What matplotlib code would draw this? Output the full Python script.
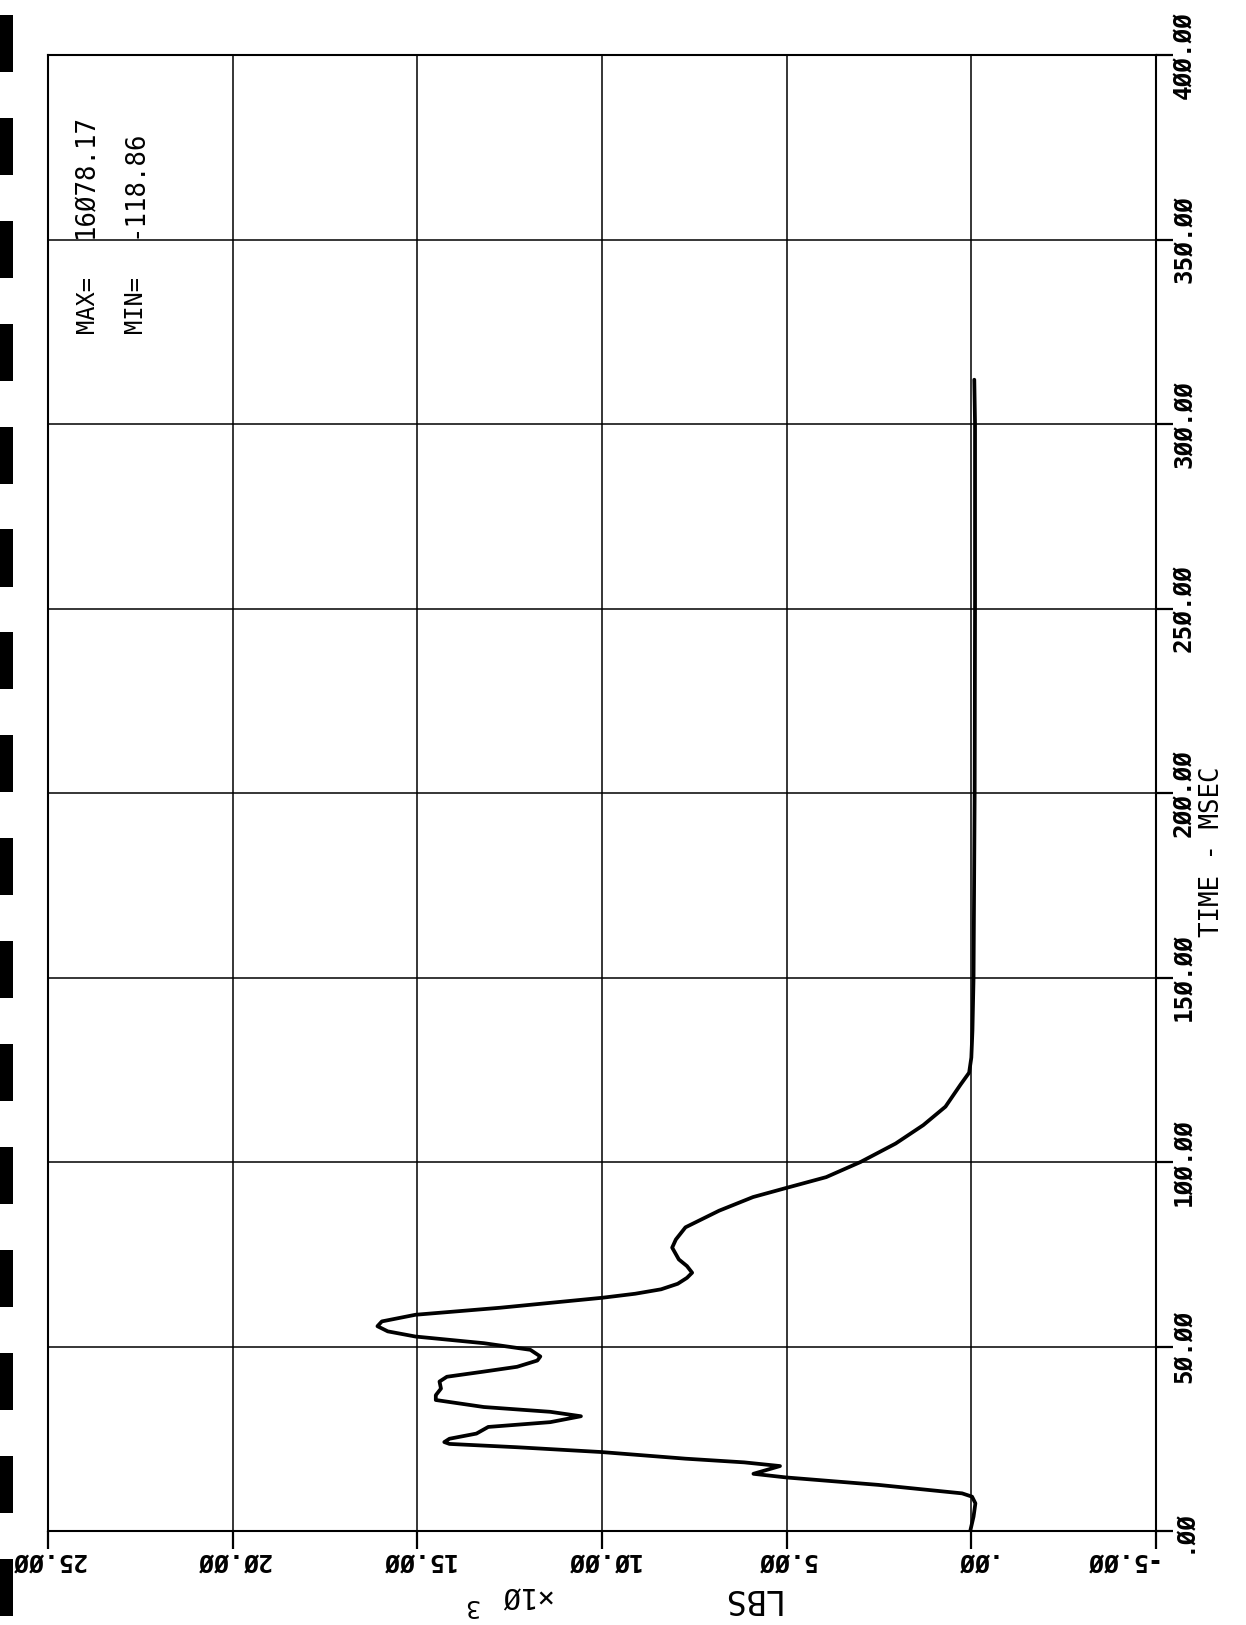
"""Rotated plotter chart: load (LBS x10^3) versus time (MSEC)."""
import matplotlib
matplotlib.use("Agg")
import matplotlib.pyplot as plt
from matplotlib.patches import Rectangle

# ---- data ------------------------------------------------------------------
time_ms = [0, 3.9, 7.5, 9.3, 10.2, 12.5, 14.5, 15.5, 17.6, 18.6, 19.6, 21.4,
           22.7, 23.6, 24.1, 25.0, 26.4, 28.2, 29.5, 31.1, 32.3, 33.6, 35.5,
           36.8, 38.6, 40.5, 41.8, 43.2, 44.5, 46.2, 47.3, 49.1, 50.9, 52.7,
           54.1, 55.5, 56.8, 58.6, 60.5, 63.2, 64.3, 65.5, 67.0, 68.6, 70.0,
           71.8, 73.6, 76.8, 79.0, 82.3, 86.8, 90.5, 93.0, 95.9, 100, 105,
           110, 115, 121, 124.2, 128.3, 135.6, 150, 200, 250, 300, 312]
load_klb = [0.03, -0.06, -0.11, -0.02, 0.25, 2.52, 5.0, 5.9, 5.18, 6.15, 7.74,
            10.02, 12.3, 14.13, 14.27, 14.13, 13.4, 13.08, 11.4, 10.57, 11.4,
            13.2, 14.5, 14.5, 14.36, 14.4, 14.2, 13.2, 12.3, 11.75, 11.67,
            11.94, 13.2, 15.05, 15.8, 16.08, 15.96, 15.05, 12.76, 10.0, 9.1,
            8.4, 7.95, 7.7, 7.56, 7.7, 7.92, 8.1, 8.0, 7.74, 6.83, 5.91, 5.0,
            3.93, 3.0, 2.05, 1.3, 0.7, 0.29, 0.06, 0.0, -0.03, -0.06, -0.09,
            -0.1, -0.1, -0.08]

load_ticks = [25, 20, 15, 10, 5, 0, -5]
load_labels = ["25.ØØ", "2Ø.ØØ", "15.ØØ", "1Ø.ØØ", "5.ØØ", ".ØØ", "-5.ØØ"]
time_ticks = [0, 50, 100, 150, 200, 250, 300, 350, 400]
time_labels = [".ØØ", "5Ø.ØØ", "1ØØ.ØØ", "15Ø.ØØ", "2ØØ.ØØ", "25Ø.ØØ",
               "3ØØ.ØØ", "35Ø.ØØ", "4ØØ.ØØ"]
max_text = "16Ø78.17"
min_text = "-118.86"

W, H = 1246, 1625
FONT = "DejaVu Sans Mono"

fig = plt.figure(figsize=(W / 100, H / 100), dpi=100)
fig.patch.set_facecolor("white")

# axes box in pixels: left 48, right 1156, top 55, bottom 1531
ax = fig.add_axes([48 / W, (H - 1531) / H, (1156 - 48) / W, (1531 - 55) / H])
ax.set_xlim(25, -5)
ax.set_ylim(0, 400)
ax.set_xticks(load_ticks)
ax.set_yticks(time_ticks)
ax.set_xticklabels([])
ax.set_yticklabels([])
ax.tick_params(axis="x", which="both", bottom=True, top=False, direction="out",
               length=13, width=1.6, color="black")
ax.tick_params(axis="y", which="both", left=False, right=True, direction="out",
               length=12, width=1.6, color="black")
ax.grid(True, color="black", linewidth=1.1)
for sp in ax.spines.values():
    sp.set_color("black")
    sp.set_linewidth(1.5)

ax.plot(load_klb, time_ms, color="black", linewidth=2.7, solid_joinstyle="round",
        solid_capstyle="round", zorder=3)

# tick labels, plotter style (bottom ones upside-down, right ones rotated)
xtr = ax.get_xaxis_transform()
ytr = ax.get_yaxis_transform()
for val, lab in zip(load_ticks, load_labels):
    # the plotter hangs a leading minus sign past the label's usual spot
    xpos = val + (1.0 if lab.startswith("-") else 0.0)
    ax.text(xpos, -0.0196, lab, transform=xtr, rotation=180, ha="center",
            va="center", fontsize=18, fontweight="bold", family=FONT,
            clip_on=False)
for val, lab in zip(time_ticks, time_labels):
    ax.text(1.025, val, lab, transform=ytr, rotation=90, ha="center",
            va="center", fontsize=17.5, fontweight="bold", family=FONT,
            clip_on=False)

# axis titles
ax.text(6.0, -0.0454, "LBS", transform=xtr, rotation=180, ha="center",
        va="center", fontsize=24, family=FONT, clip_on=False)
ax.text(12.1, -0.0434, "×1Ø", transform=xtr, rotation=180, ha="center",
        va="center", fontsize=21, family=FONT, clip_on=False)
ax.text(13.55, -0.0505, "3", transform=xtr, rotation=180, ha="center",
        va="center", fontsize=18, family=FONT, clip_on=False)
ax.text(1.0505, 184, "TIME - MSEC", transform=ytr, rotation=90, ha="center",
        va="center", fontsize=18.5, family=FONT, clip_on=False)

# max / min annotation
ax.text(23.95, 340.2, "MAX=", rotation=90, ha="center", va="top",
        fontsize=17, family=FONT)
ax.text(23.95, 350.5, max_text, rotation=90, ha="center", va="bottom",
        fontsize=18.5, family=FONT)
ax.text(22.65, 340.2, "MIN=", rotation=90, ha="center", va="top",
        fontsize=17, family=FONT)
ax.text(22.65, 350.5, min_text, rotation=90, ha="center", va="bottom",
        fontsize=18.5, family=FONT)

# punched marks along the left edge of the scanned sheet
for i in range(16):
    top = 15 + i * 102.9
    fig.add_artist(Rectangle((0, 1 - (top + 57) / H), 13 / W, 57 / H,
                             transform=fig.transFigure, color="black", lw=0))

fig.savefig("out.png", dpi=100, facecolor="white")
